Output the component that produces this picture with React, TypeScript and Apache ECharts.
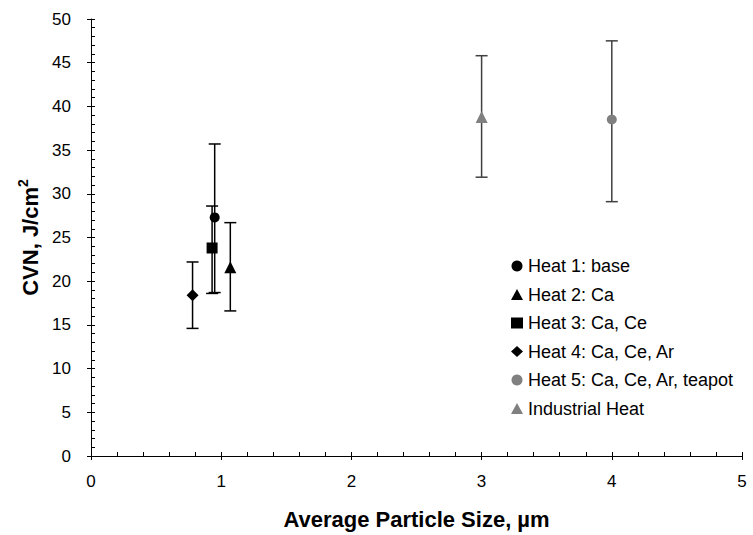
import React, { useEffect, useRef } from "react";
import * as echarts from "echarts";

const seriesNames = [
  "Heat 1: base",
  "Heat 2: Ca",
  "Heat 3: Ca, Ce",
  "Heat 4: Ca, Ce, Ar",
  "Heat 5: Ca, Ce, Ar, teapot",
  "Industrial Heat",
];
const particleSize = [0.95, 1.07, 0.93, 0.78, 4.0, 3.0];
const cvn = [27.3, 21.6, 23.8, 18.4, 38.5, 38.8];
const cvnLow = [18.7, 16.6, 18.6, 14.6, 29.1, 31.9];
const cvnHigh = [35.7, 26.7, 28.6, 22.2, 47.5, 45.8];
const xTicks = [0, 1, 2, 3, 4, 5];
const yTicks = [0, 5, 10, 15, 20, 25, 30, 35, 40, 45, 50];

const symbols = ["circle", "triangle", "rect", "diamond", "circle", "triangle"];
const symbolSizes = [10, 12, 11, 12, 10, 12];
const colors = ["#000000", "#000000", "#000000", "#000000", "#808080", "#808080"];
const barColors = ["#000000", "#000000", "#000000", "#000000", "#404040", "#404040"];

const FONT = "'Liberation Sans', Arial, sans-serif";

export default function App() {
  const ref = useRef<HTMLDivElement>(null);
  useEffect(() => {
    if (!ref.current) return;
    const chart = echarts.init(ref.current, null, { renderer: "svg" });

    const errorSeries: any[] = seriesNames.map((name, i) => ({
      type: "custom",
      name: name + " err",
      xAxisIndex: 0,
      yAxisIndex: 0,
      z: 2,
      silent: true,
      data: [[particleSize[i], cvnLow[i], cvnHigh[i]]],
      renderItem: (params: any, api: any) => {
        const x = api.value(0);
        const top = api.coord([x, api.value(2)]);
        const bot = api.coord([x, api.value(1)]);
        const hw = 6;
        const style = { stroke: barColors[i], lineWidth: 1.5 };
        return {
          type: "group",
          children: [
            { type: "line", shape: { x1: top[0], y1: top[1], x2: bot[0], y2: bot[1] }, style },
            { type: "line", shape: { x1: top[0] - hw, y1: top[1], x2: top[0] + hw, y2: top[1] }, style },
            { type: "line", shape: { x1: bot[0] - hw, y1: bot[1], x2: bot[0] + hw, y2: bot[1] }, style },
          ],
        };
      },
    }));

    const pointSeries: any[] = seriesNames.map((name, i) => ({
      type: "scatter",
      name,
      xAxisIndex: 0,
      yAxisIndex: 0,
      z: 3,
      symbol: symbols[i],
      symbolSize: symbolSizes[i],
      itemStyle: { color: colors[i], opacity: 1 },
      data: [[particleSize[i], cvn[i]]],
    }));

    const axisCommon = {
      axisLine: { show: true, onZero: false, lineStyle: { color: "#000", width: 1 } },
      splitLine: { show: false },
    };

    chart.setOption({
      animation: false,
      backgroundColor: "#ffffff",
      textStyle: { fontFamily: FONT },
      grid: { left: 91, right: 11, top: 19, bottom: 78, containLabel: false },
      legend: {
        data: seriesNames.map((n, i) => ({ name: n, icon: symbols[i] })),
        orient: "vertical",
        left: 506,
        top: 252,
        itemWidth: 12,
        itemHeight: 11,
        itemGap: 10.5,
        textStyle: { fontSize: 18, color: "#000", fontFamily: FONT },
        selectedMode: false,
      },
      xAxis: [
        {
          type: "value",
          min: xTicks[0],
          max: xTicks[xTicks.length - 1],
          interval: 1,
          position: "bottom",
          ...axisCommon,
          axisTick: { show: true, inside: true, length: 4, lineStyle: { color: "#000" } },
          minorTick: { show: true, splitNumber: 5, length: 4, lineStyle: { color: "#000" } },
          axisLabel: { fontSize: 17, color: "#000", margin: 17, fontFamily: FONT },
          name: "Average Particle Size, µm",
          nameLocation: "middle",
          nameGap: 52,
          nameTextStyle: { fontSize: 22, fontWeight: "bold", color: "#000", fontFamily: FONT },
        },
        {
          type: "value",
          min: xTicks[0],
          max: xTicks[xTicks.length - 1],
          interval: 1,
          position: "bottom",
          axisLine: { show: false, onZero: false },
          splitLine: { show: false },
          axisTick: { show: true, inside: false, length: 4, lineStyle: { color: "#000" } },
          axisLabel: { show: false },
        },
      ],
      yAxis: [
        {
          type: "value",
          min: yTicks[0],
          max: yTicks[yTicks.length - 1],
          interval: 5,
          position: "left",
          ...axisCommon,
          axisTick: { show: true, inside: true, length: 4, lineStyle: { color: "#000" } },
          minorTick: { show: true, splitNumber: 5, length: 4, lineStyle: { color: "#000" } },
          axisLabel: { fontSize: 17, color: "#000", margin: 20, fontFamily: FONT },
          name: "{a|CVN, J/cm}{s|2}",
          nameLocation: "middle",
          nameGap: 46,
          nameTextStyle: {
            color: "#000",
            fontFamily: FONT,
            rich: {
              a: { fontSize: 22, fontWeight: "bold", color: "#000", fontFamily: FONT, lineHeight: 28 },
              s: { fontSize: 14, fontWeight: "bold", color: "#000", fontFamily: FONT, verticalAlign: "top", lineHeight: 16 },
            },
          },
        },
        {
          type: "value",
          min: yTicks[0],
          max: yTicks[yTicks.length - 1],
          interval: 5,
          position: "left",
          axisLine: { show: false, onZero: false },
          splitLine: { show: false },
          axisTick: { show: true, inside: false, length: 4, lineStyle: { color: "#000" } },
          axisLabel: { show: false },
        },
      ],
      series: [...errorSeries, ...pointSeries],
    });

    return () => chart.dispose();
  }, []);

  return <div ref={ref} style={{ width: 753, height: 535, position: "absolute", left: 0, top: 0 }} />;
}
